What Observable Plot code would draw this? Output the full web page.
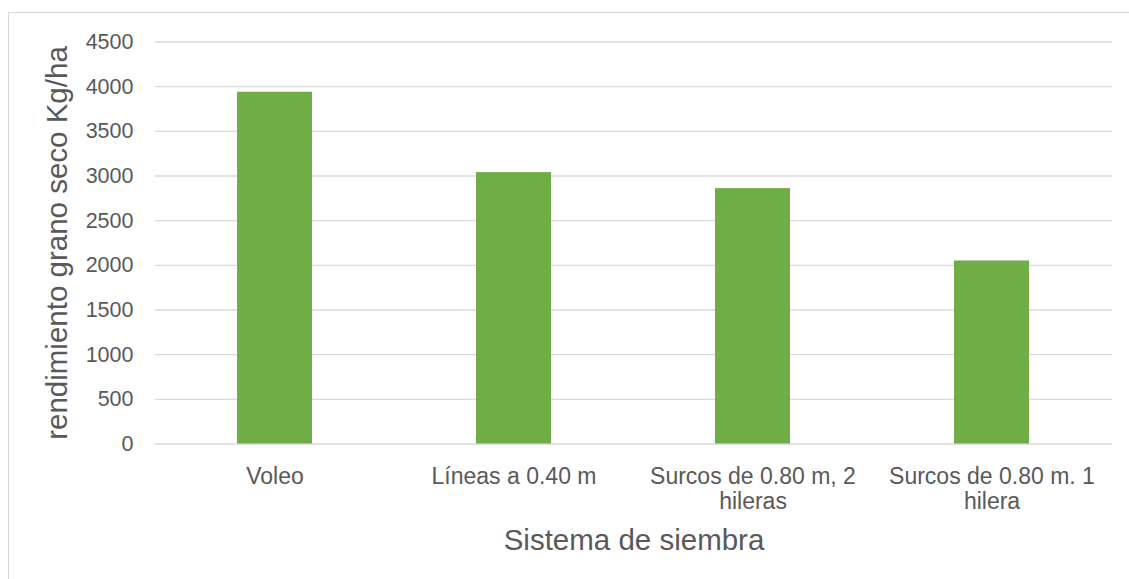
<!DOCTYPE html>
<html>
<head>
<meta charset="utf-8">
<script src="https://cdn.jsdelivr.net/npm/d3@7"></script>
<script src="https://cdn.jsdelivr.net/npm/@observablehq/plot@0.6"></script>
<style>
  html, body { margin: 0; padding: 0; background: #fff; overflow: hidden; width: 1129px; height: 579px; }
  #wrap { position: relative; width: 1129px; height: 579px; }
  #frame { position: absolute; left: 8px; top: 12px; width: 1300px; height: 800px; border: 1px solid #d9d9d9; box-sizing: border-box; }
  #chart { position: absolute; left: 0; top: 0; }
</style>
</head>
<body>
<div id="wrap">
  <div id="frame"></div>
  <div id="chart"></div>
</div>
<script>
const categories = ["Voleo", "Líneas a 0.40 m", "Surcos de 0.80 m, 2\nhileras", "Surcos de 0.80 m. 1\nhilera"];
const values = [3938, 3038, 2859, 2049];
const yTicks = [0, 500, 1000, 1500, 2000, 2500, 3000, 3500, 4000, 4500];
const xTitle = "Sistema de siembra";
const yTitle = "rendimiento grano seco Kg/ha";

const data = categories.map((c, i) => ({category: c, value: values[i]}));

const chart = Plot.plot({
  width: 1129,
  height: 579,
  marginLeft: 155,
  marginRight: 17,
  marginTop: 41.5,
  marginBottom: 135.5,
  style: {fontFamily: "'Liberation Sans', Arial, sans-serif", fontSize: "22px", color: "#595959", background: "transparent", overflow: "visible"},
  x: {domain: categories, paddingInner: 0.686, paddingOuter: 0.343, align: 0.5},
  y: {domain: [0, 4500]},
  marks: [
    Plot.gridY(yTicks, {stroke: "#d9d9d9", strokeOpacity: 1, strokeWidth: 1.3}),
    Plot.barY(data, {x: "category", y: "value", fill: "#70ad47"}),
    Plot.axisY(yTicks, {tickSize: 0, tickPadding: 22, fontSize: 21.5, fill: "#595959", tickFormat: d3.format("d"),
      label: yTitle, labelAnchor: "center", labelArrow: "none", labelOffset: 109}),
    Plot.axisX({tickSize: 0, tickPadding: 22, fontSize: 23, fill: "#595959", lineHeight: 1.09,
      label: xTitle, labelAnchor: "center", labelArrow: "none", labelOffset: 106})
  ]
});
chart.querySelectorAll("g[aria-label='y-axis label'] text, g[aria-label='x-axis label'] text").forEach(t => t.setAttribute("font-size", "29.5"));
document.getElementById("chart").appendChild(chart);
</script>
</body>
</html>
